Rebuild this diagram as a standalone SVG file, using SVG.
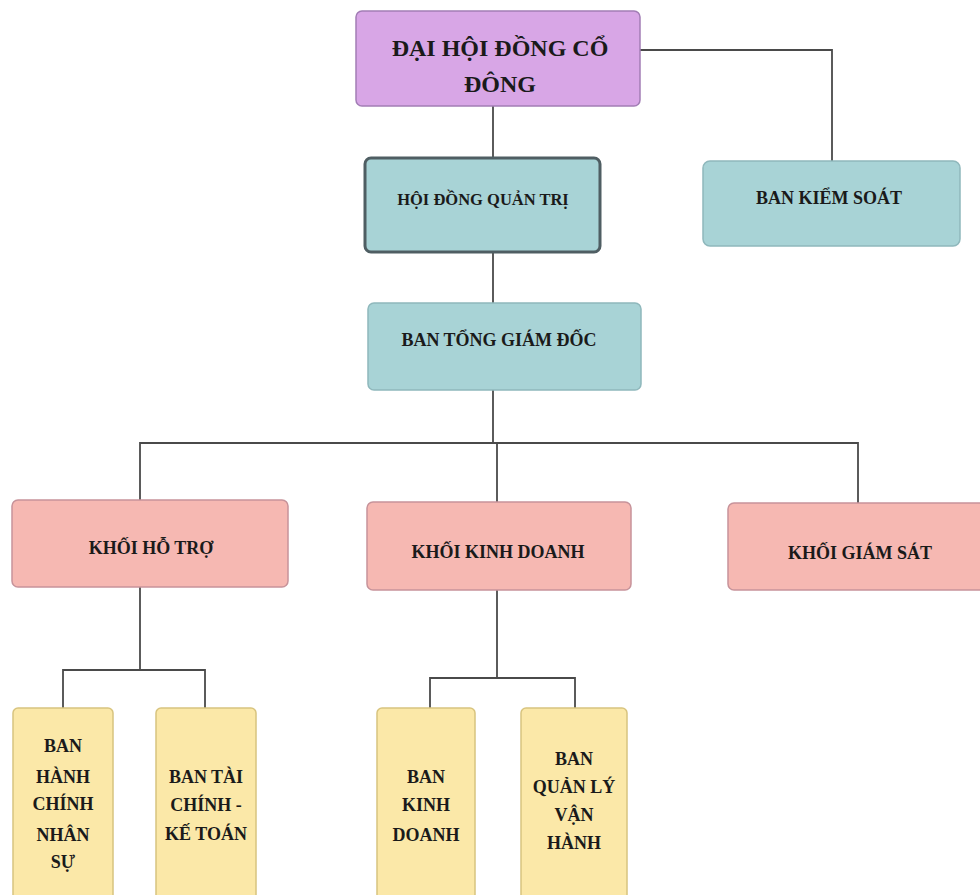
<svg xmlns="http://www.w3.org/2000/svg" width="980" height="895" viewBox="0 0 980 895">
<style>
text{font-family:"Liberation Serif","Times New Roman",serif;font-weight:bold;fill:#1a1a1a;text-anchor:middle}
.t1{font-size:24px}
.t2{font-size:18px}
.t3{font-size:18px}
.purple{fill:#D8A6E6;stroke:#A27DB5;stroke-width:1.5}
.teal{fill:#A8D3D6;stroke:#8FB8BC;stroke-width:1.5}
.tealdark{fill:#A8D3D6;stroke:#4F5E63;stroke-width:3}
.pink{fill:#F6B8B2;stroke:#C7939A;stroke-width:1.5}
.yellow{fill:#FBE8A8;stroke:#D8C47F;stroke-width:1.5}
.conn{fill:none;stroke:#4a4a4a;stroke-width:1.8}
</style>
<rect width="980" height="895" fill="#ffffff"/>
<g id="connectors">
<polyline class="conn" points="640,50 832,50 832,161"/>
<line class="conn" x1="493" y1="106" x2="493" y2="158"/>
<line class="conn" x1="493" y1="252" x2="493" y2="303"/>
<line class="conn" x1="493" y1="390" x2="493" y2="443"/>
<polyline class="conn" points="140,500 140,443 858,443 858,503"/>
<line class="conn" x1="497" y1="443" x2="497" y2="502"/>
<line class="conn" x1="140" y1="587" x2="140" y2="670"/>
<polyline class="conn" points="63,708 63,670 205,670 205,708"/>
<line class="conn" x1="497" y1="590" x2="497" y2="678"/>
<polyline class="conn" points="430,708 430,678 575,678 575,708"/>
</g>
<g id="dhdcd">
<rect class="purple" x="356" y="11" width="284" height="95" rx="6"/>
<text class="t1" x="500" y="56">ĐẠI HỘI ĐỒNG CỔ</text>
<text class="t1" x="500" y="92">ĐÔNG</text>
</g>
<g id="hdqt">
<rect class="tealdark" x="365" y="158" width="235" height="94" rx="6"/>
<text class="t2" x="483" y="205" style="font-size:16.5px">HỘI ĐỒNG QUẢN TRỊ</text>
</g>
<g id="bks">
<rect class="teal" x="703" y="161" width="257" height="85" rx="7"/>
<text class="t2" x="829" y="204">BAN KIỂM SOÁT</text>
</g>
<g id="btgd">
<rect class="teal" x="368" y="303" width="273" height="87" rx="6"/>
<text class="t2" x="499" y="346">BAN TỔNG GIÁM ĐỐC</text>
</g>
<g id="khoi-ho-tro">
<rect class="pink" x="12" y="500" width="276" height="87" rx="6"/>
<text class="t2" x="151" y="554">KHỐI HỖ TRỢ</text>
</g>
<g id="khoi-kinh-doanh">
<rect class="pink" x="367" y="502" width="264" height="88" rx="6"/>
<text class="t2" x="498" y="558">KHỐI KINH DOANH</text>
</g>
<g id="khoi-giam-sat">
<rect class="pink" x="728" y="503" width="257" height="87" rx="6"/>
<text class="t2" x="860" y="559">KHỐI GIÁM SÁT</text>
</g>
<g id="ban-hcns">
<rect class="yellow" x="13" y="708" width="100" height="192" rx="5"/>
<text class="t3" x="63" y="752">BAN</text>
<text class="t3" x="63" y="783">HÀNH</text>
<text class="t3" x="63" y="810">CHÍNH</text>
<text class="t3" x="63" y="841">NHÂN</text>
<text class="t3" x="63" y="868">SỰ</text>
</g>
<g id="ban-tckt">
<rect class="yellow" x="156" y="708" width="100" height="192" rx="5"/>
<text class="t3" x="206" y="783">BAN TÀI</text>
<text class="t3" x="206" y="811">CHÍNH -</text>
<text class="t3" x="206" y="840">KẾ TOÁN</text>
</g>
<g id="ban-kd">
<rect class="yellow" x="377" y="708" width="98" height="192" rx="5"/>
<text class="t3" x="426" y="783">BAN</text>
<text class="t3" x="426" y="811">KINH</text>
<text class="t3" x="426" y="841">DOANH</text>
</g>
<g id="ban-qlvh">
<rect class="yellow" x="521" y="708" width="106" height="192" rx="5"/>
<text class="t3" x="574" y="765">BAN</text>
<text class="t3" x="574" y="793">QUẢN LÝ</text>
<text class="t3" x="574" y="821">VẬN</text>
<text class="t3" x="574" y="849">HÀNH</text>
</g>
</svg>
